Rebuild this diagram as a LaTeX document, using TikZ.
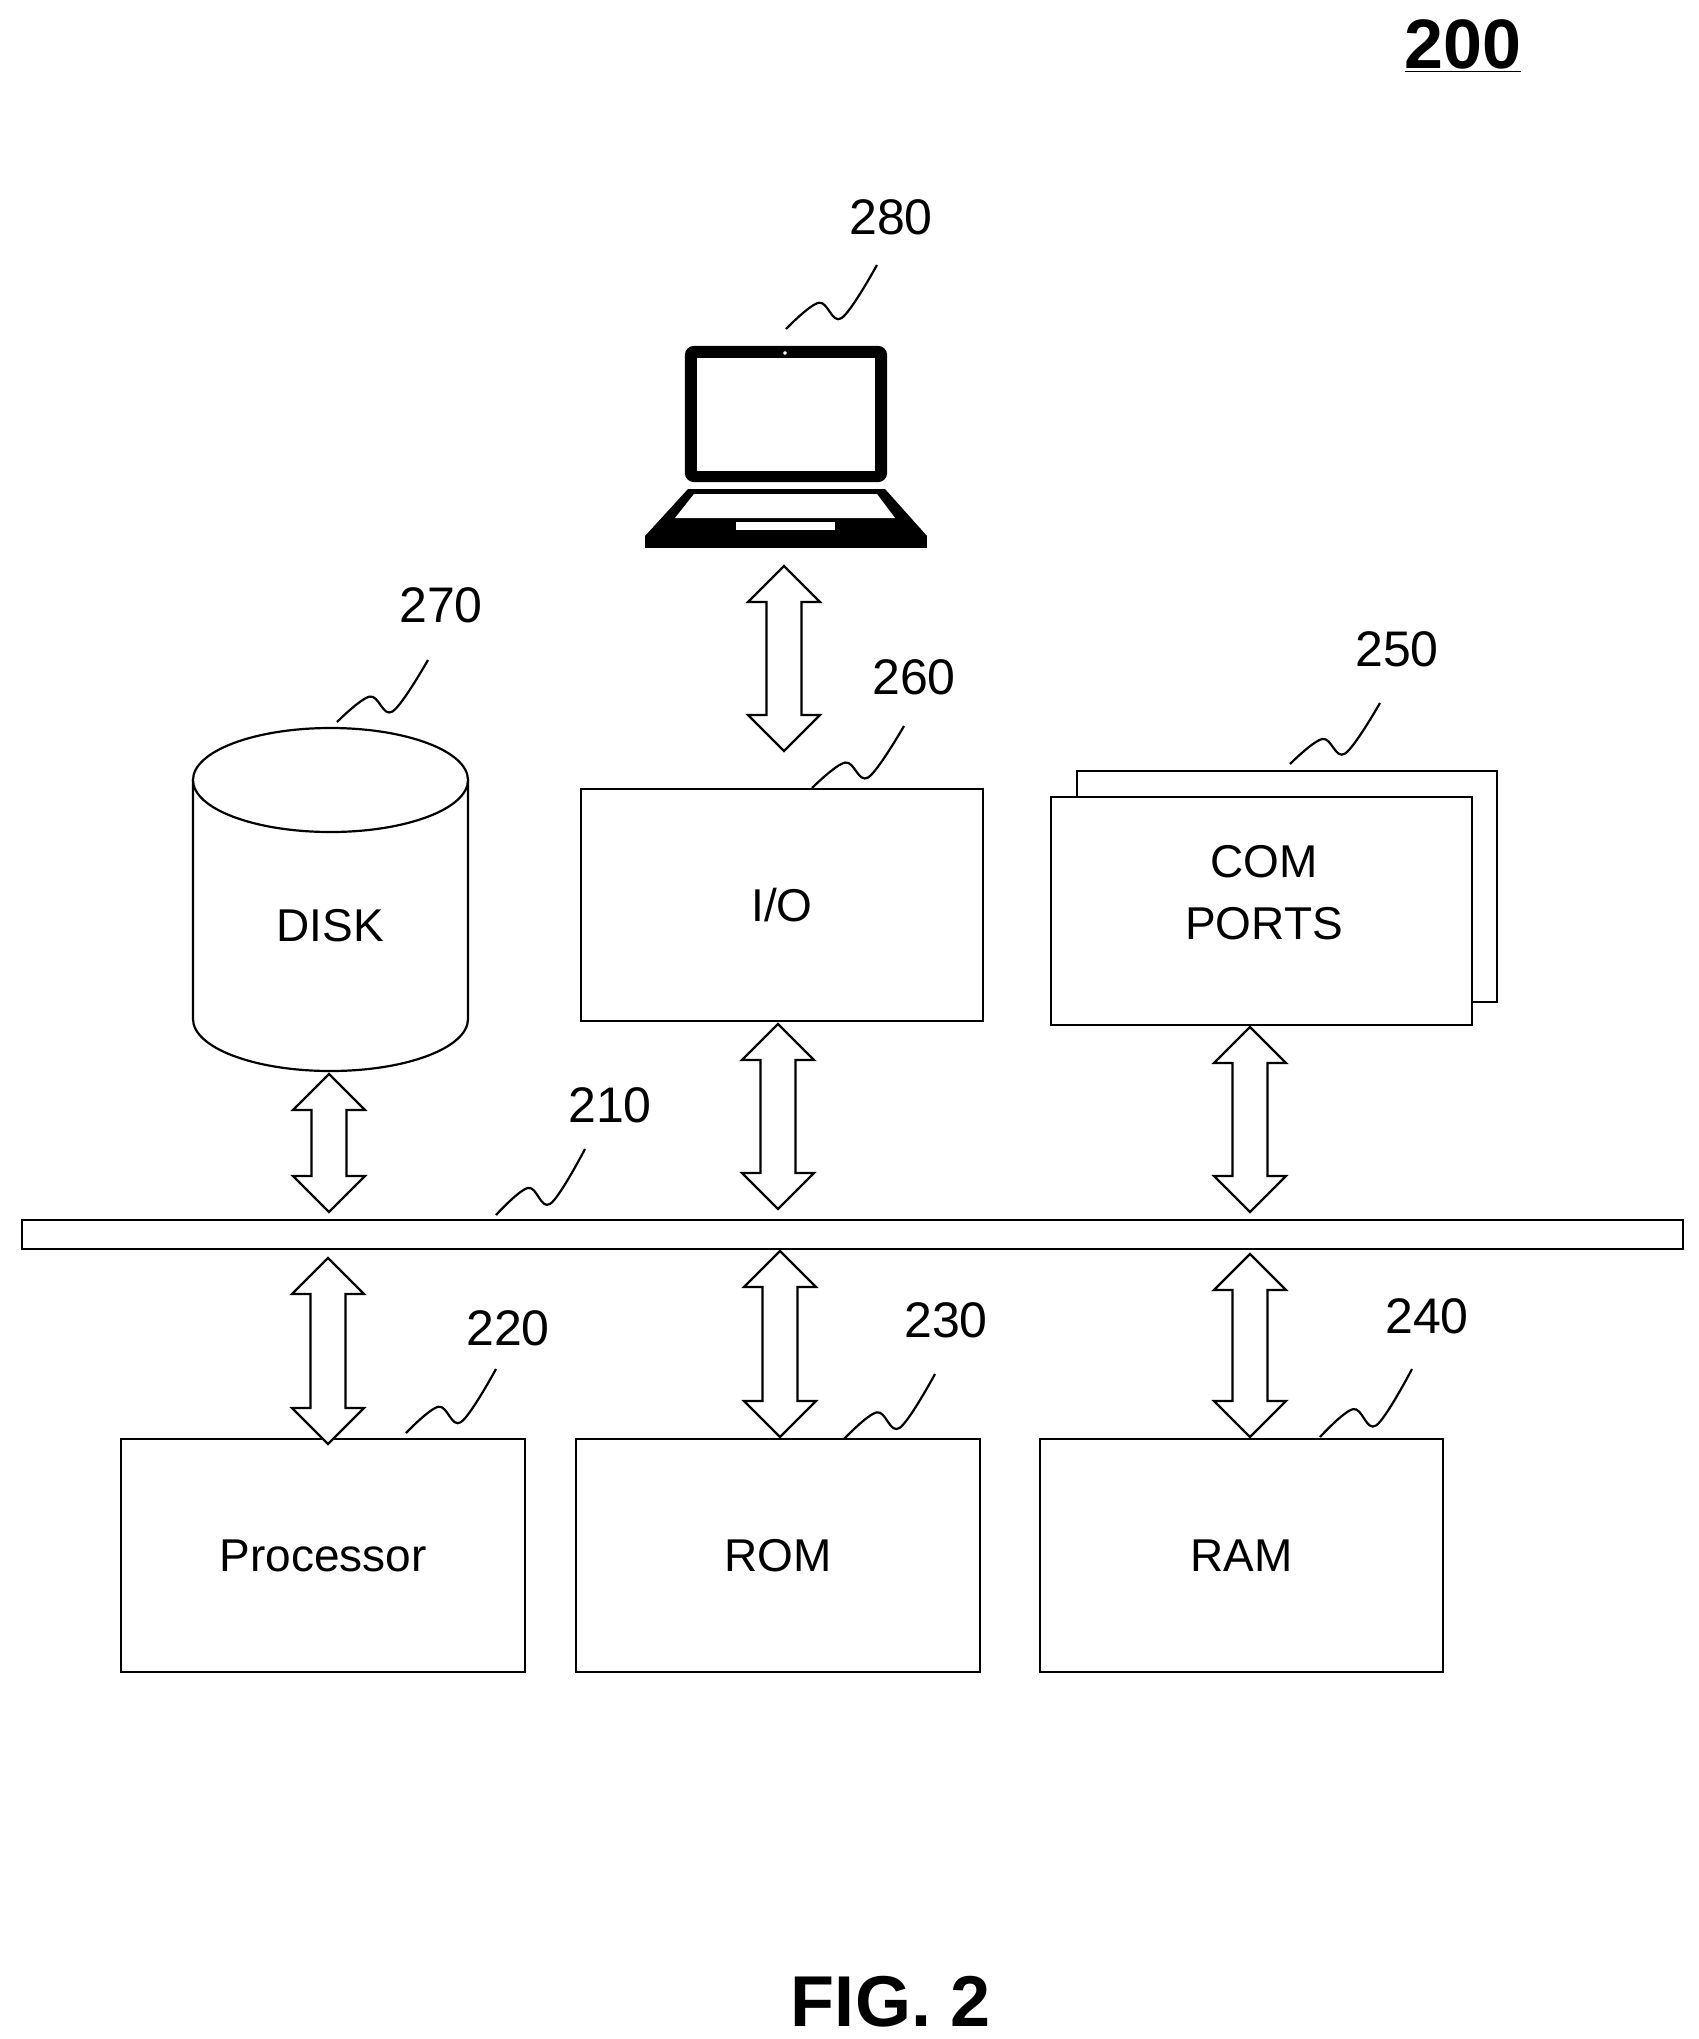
\documentclass[tikz,border=0pt]{standalone}
\usepackage{fontspec}
\setmainfont{Liberation Sans}
\begin{document}
\begin{tikzpicture}[x=0.5pt,y=-0.5pt,line width=1.1pt,
  box/.style={draw,fill=white,inner sep=0},
  lbl/.style={font=\fontsize{25}{28}\selectfont},
  txt/.style={font=\fontsize{23}{27}\selectfont,align=center}]
\useasboundingbox (0,0) rectangle (1698,2039);
\newcommand\squig[4]{\draw[line width=1.1pt] plot[smooth,tension=0.6] coordinates {(#1,#2) ({#1+0.36*(#3-#1)},{#2+0.41*(#4-#2)}) ({#1+0.61*(#3-#1)},{#2+0.17*(#4-#2)}) (#3,#4)};}
\newcommand\darr[3]{\draw[fill=white,line width=1.1pt] (#1,#2) -- ({#1+36},{#2+36}) -- ({#1+17.5},{#2+36}) -- ({#1+17.5},{#3-36}) -- ({#1+36},{#3-36}) -- (#1,#3) -- ({#1-36},{#3-36}) -- ({#1-17.5},{#3-36}) -- ({#1-17.5},{#2+36}) -- ({#1-36},{#2+36}) -- cycle;}
% title
\node[font=\bfseries\fontsize{35}{40}\selectfont] (t200) at (1463,46) {\underline{200}};
% laptop
\draw[fill=black,rounded corners=4] (686,347) rectangle (886,481);
\fill[white] (697,358) rectangle (875,471);
\filldraw[fill=white,line width=1.5pt] (785,353) circle (3.5);
\fill[black] (688,489) -- (885,489) -- (927,536) -- (645,536) -- cycle;
\fill[black] (645,536) rectangle (927,548);
\fill[white] (694,494) -- (877,494) -- (895,518) -- (675,518) -- cycle;
\fill[white] (736,522) rectangle (835,530);
\node[lbl] (l280) at (891,217) {280};
\squig{786}{329}{877}{265}
% boxes
\node[box,minimum width=201pt,minimum height=116pt,txt] (io) at (782,905) {I/O};
\draw[fill=white] (1077,771) rectangle (1497,1002);
\node[box,minimum width=210.5pt,minimum height=114pt] (com) at (1261.5,911) {};
\node[txt,font=\fontsize{23}{31}\selectfont] (comt) at (1264,893) {COM\\PORTS};
\node[box,minimum width=202pt,minimum height=116.5pt,txt] (proc) at (323,1555.5) {Processor};
\node[box,minimum width=202pt,minimum height=116.5pt,txt] (rom) at (778,1555.5) {ROM};
\node[box,minimum width=201.5pt,minimum height=116.5pt,txt] (ram) at (1241.5,1555.5) {RAM};
% disk
\draw[fill=white] (193,780) -- (193,1019) arc[start angle=180,end angle=0,x radius=137.5,y radius=52] -- (468,780);
\draw[fill=white] (330.5,780) ellipse[x radius=137.5,y radius=52];
\node[txt] (disk) at (330,926) {DISK};
% bus
\node[box,minimum width=830.5pt,minimum height=14.5pt] (bus) at (852.5,1234.5) {};
% labels
\node[lbl] (l260) at (914,677) {260}; \squig{812}{788}{904}{726}
\node[lbl] (l250) at (1397,649) {250}; \squig{1290}{764}{1380}{703}
\node[lbl] (l270) at (441,605) {270}; \squig{337}{722}{428}{660}
\node[lbl] (l210) at (610,1105) {210}; \squig{496}{1215}{585}{1149}
\node[lbl] (l220) at (508,1328) {220}; \squig{406}{1433}{496}{1369}
\node[lbl] (l230) at (946,1320) {230}; \squig{844}{1439}{935}{1374}
\node[lbl] (l240) at (1427,1316) {240}; \squig{1320}{1437}{1412}{1369}
% arrows
\darr{784}{566}{751}
\darr{329}{1074}{1212}
\darr{778}{1024}{1209}
\darr{1250}{1027}{1212}
\darr{328}{1258}{1444}
\darr{780}{1251}{1437}
\darr{1250}{1254}{1437}
\node[font=\bfseries\fontsize{36}{40}\selectfont] (fig) at (891,2002) {FIG. 2};
\end{tikzpicture}
\end{document}
